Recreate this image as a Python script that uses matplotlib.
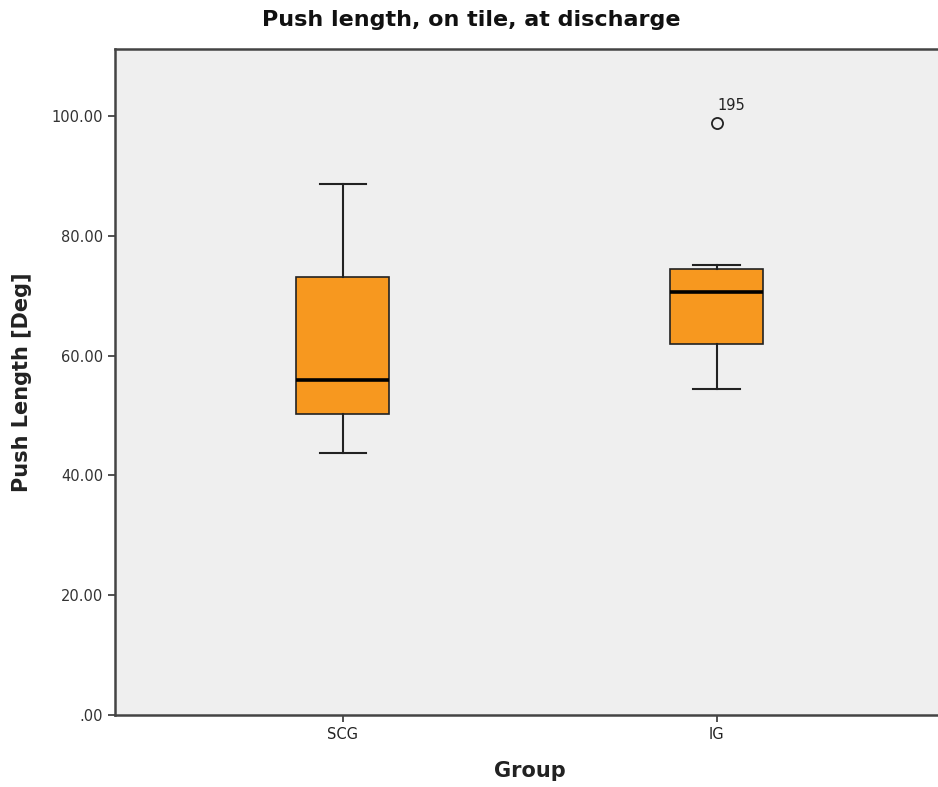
import matplotlib
matplotlib.use("Agg")
import matplotlib.pyplot as plt

groups = ["SCG", "IG"]
whisker_low = [43.8, 54.4]
q1 = [50.2, 62.0]
median = [55.9, 70.7]
q3 = [73.1, 74.5]
whisker_high = [88.6, 75.2]
outliers = [[], [98.9]]
outlier_labels = [[], ["195"]]
y_ticks = [0, 20, 40, 60, 80, 100]
y_tick_labels = [".00", "20.00", "40.00", "60.00", "80.00", "100.00"]

fig = plt.figure(figsize=(9.38, 7.87), dpi=100)
ax = fig.add_axes([115/938, 72/787, 830/938, 666/787])
ax.set_facecolor("#EFEFEF")

stats = []
for i, g in enumerate(groups):
    stats.append(dict(label=g, whislo=whisker_low[i], q1=q1[i], med=median[i],
                      q3=q3[i], whishi=whisker_high[i], fliers=outliers[i]))

positions = list(range(len(groups)))
ax.bxp(stats, positions=positions, widths=0.249, patch_artist=True,
       boxprops=dict(facecolor="#F7981F", edgecolor="#222222", linewidth=1.2),
       medianprops=dict(color="black", linewidth=2.6),
       whiskerprops=dict(color="#222222", linewidth=1.5),
       capprops=dict(color="#222222", linewidth=1.5),
       capwidths=0.125,
       flierprops=dict(marker="o", markerfacecolor="none", markeredgecolor="#222222",
                       markersize=8, markeredgewidth=1.3))

for i, (vals, labs) in enumerate(zip(outliers, outlier_labels)):
    for v, lab in zip(vals, labs):
        ax.text(positions[i] + 0.003, v + 1.6, lab, fontsize=10.5, color="#222222",
                ha="left", va="bottom")

ax.set_xlim(-0.61, 1.611)
ax.set_ylim(0, 111.2)
ax.set_yticks(y_ticks)
ax.set_yticklabels(y_tick_labels, fontsize=10.5, color="#333333")
ax.set_xticks(positions)
ax.set_xticklabels(groups, fontsize=10.5, color="#222222")
ax.tick_params(axis="both", direction="out", length=5, width=1.2, color="#333333")

for s in ["top", "left", "bottom"]:
    ax.spines[s].set_color("#444444")
    ax.spines[s].set_linewidth(1.8)
ax.spines["right"].set_visible(False)

ax.set_ylabel("Push Length [Deg]", fontsize=15, fontweight="bold", color="#222222", labelpad=14)
ax.set_xlabel("Group", fontsize=15, fontweight="bold", color="#222222", labelpad=14)
fig.text(471/938, 1 - 20/787, "Push length, on tile, at discharge", fontsize=16,
         fontweight="bold", color="#111111", ha="center", va="center")

fig.savefig("out.png", dpi=100)
